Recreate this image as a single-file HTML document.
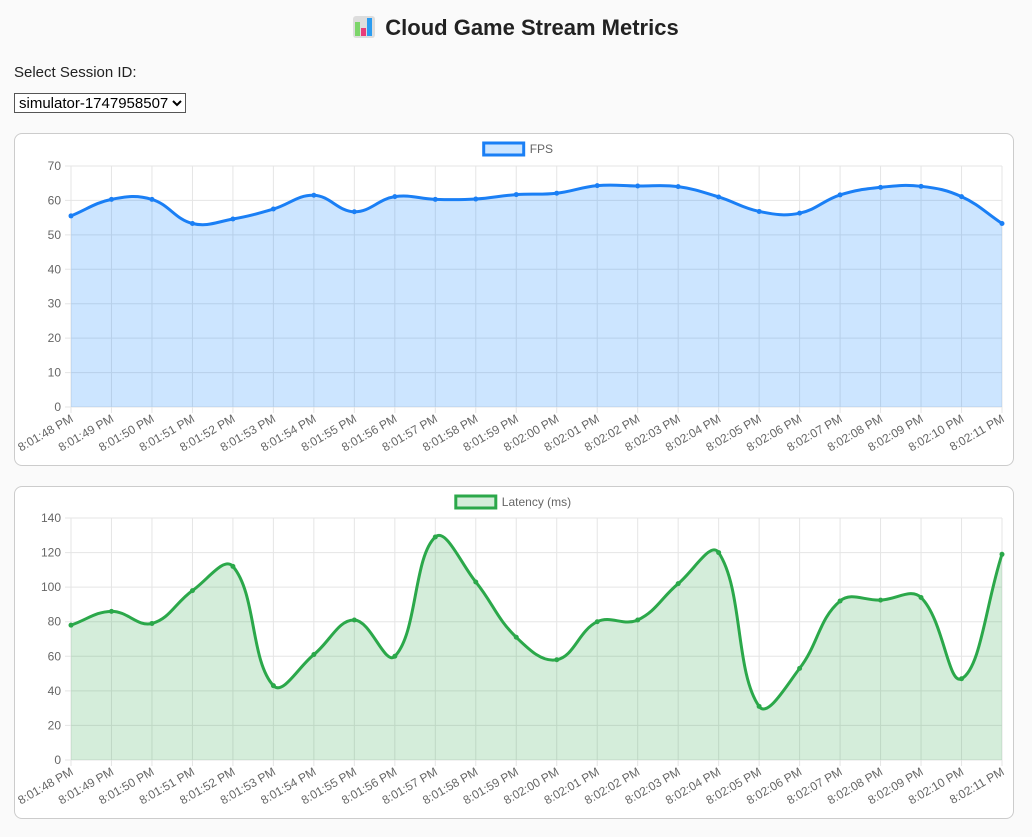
<!DOCTYPE html>
<html><head><meta charset="utf-8">
<style>
body{margin:0;background:#fafafa;font-family:"Liberation Sans",Arial,sans-serif;width:1032px;height:837px;overflow:hidden;position:relative}
h1{position:absolute;left:0;width:1032px;top:15px;margin:0;text-align:center;font-size:22px;font-weight:bold;color:#222}
.lbl{position:absolute;left:14px;top:64px;font-size:15px;color:#222}
select{position:absolute;left:14px;top:93px;height:20px;font-size:15px;font-family:"Liberation Sans",sans-serif;padding:0;border:1px solid #555;background:#fff}
.card{position:absolute;left:14px;width:1000px;height:333px;background:#fff;border:1px solid #ccc;border-radius:8px;box-sizing:border-box}
svg{position:absolute;left:0;top:0}
</style></head><body>
<h1><span style="display:inline-block;width:22px;height:22px;vertical-align:-3px;margin-right:10px;background:#ddd;border-radius:3px;position:relative"><span style="position:absolute;left:2px;bottom:2px;width:5px;height:14px;background:#7cd56a"></span><span style="position:absolute;left:8px;bottom:2px;width:5px;height:8px;background:#e83c7a"></span><span style="position:absolute;left:14px;bottom:2px;width:5px;height:18px;background:#2b9cf0"></span></span>Cloud Game Stream Metrics</h1>
<div class="lbl">Select Session ID:</div>
<select><option>simulator-1747958507</option></select>
<div class="card" style="top:133px"></div>
<div class="card" style="top:486px"></div>
<svg id="s" width="1032" height="837"></svg>
<script>
const labels=["8:01:48 PM","8:01:49 PM","8:01:50 PM","8:01:51 PM","8:01:52 PM","8:01:53 PM","8:01:54 PM","8:01:55 PM","8:01:56 PM","8:01:57 PM","8:01:58 PM","8:01:59 PM","8:02:00 PM","8:02:01 PM","8:02:02 PM","8:02:03 PM","8:02:04 PM","8:02:05 PM","8:02:06 PM","8:02:07 PM","8:02:08 PM","8:02:09 PM","8:02:10 PM","8:02:11 PM"];
const fpsValues=[55.5,60.3,60.3,53.3,54.6,57.5,61.5,56.7,61.1,60.3,60.4,61.7,62.1,64.3,64.2,64,61,56.8,56.3,61.6,63.8,64.1,61.1,53.3];
const latencyValues=[78,86,79,98,112,43,61,81,60,129,103,71,58,80,81,102,120,31,53,92,92.5,94,47,119];
const fpsTicks=[0,10,20,30,40,50,60,70];
const latTicks=[0,20,40,60,80,100,120,140];
const NS='http://www.w3.org/2000/svg',svg=document.getElementById('s');
function mk(t,a,p){const e=document.createElementNS(NS,t);for(const k in a)e.setAttribute(k,a[k]);(p||svg).appendChild(e);return e;}
function chart(o){
  const g=mk('g',{});
  
  
  const x0=71,x1=1002,max=o.ticks[o.ticks.length-1];
  const X=i=>x0+i*(x1-x0)/(labels.length-1);
  const Y=v=>o.yb-(v/max)*(o.yb-o.yt);
  o.ticks.forEach(t=>{
    const l=mk('line',{x1:x0-6,x2:x1,y1:Y(t),y2:Y(t),stroke:'#e5e5e5'},g);
    
    
    const tx=mk('text',{x:x0-10,y:Y(t)+4,'text-anchor':'end','font-size':12,fill:'#666'},g);tx.textContent=t;
    
    
  });
  labels.forEach((lb,i)=>{
    mk('line',{x1:X(i),x2:X(i),y1:o.yt,y2:o.yb+6,stroke:'#e5e5e5'},g);
    const tx=mk('text',{transform:`translate(${X(i)+3},${o.yb+14}) rotate(-30)`,'text-anchor':'end','font-size':12,fill:'#666'},g);tx.textContent=lb;
    
    
  });
  const p=o.vals.map((v,i)=>[X(i),Y(v)]);
  let d=`M${p[0][0]},${p[0][1]}`;const t=0.4;
  for(let i=0;i<p.length-1;i++){
    const a=p[Math.max(i-1,0)],b=p[i],c=p[i+1],e=p[Math.min(i+2,p.length-1)];
    const d01=Math.hypot(b[0]-a[0],b[1]-a[1]),d12=Math.hypot(c[0]-b[0],c[1]-b[1]),d23=Math.hypot(e[0]-c[0],e[1]-c[1]);
    let fb=d12/(d01+d12)||0;
    const c1=[b[0]+t*fb*(c[0]-a[0]),b[1]+t*fb*(c[1]-a[1])];
    let ga=d12/(d12+d23)||0;
    const c2=[c[0]-t*ga*(e[0]-b[0]),c[1]-t*ga*(e[1]-b[1])];
    d+=` C${c1[0]},${c1[1]} ${c2[0]},${c2[1]} ${c[0]},${c[1]}`;
  }
  const area=mk('path',{d:d+` L${x1},${o.yb} L${x0},${o.yb} Z`,fill:o.fill},g);
  
  
  const ln=mk('path',{d:d,fill:'none',stroke:o.color,'stroke-width':3},g);
  
  
  p.forEach(q=>{const c=mk('circle',{cx:q[0],cy:q[1],r:2.5,fill:o.color},g);
    
    });
  const lw=o.legend.length*6.2+46,lx=516-lw/2;
  const lr=mk('rect',{x:lx,y:o.ly,width:40,height:12,fill:o.fill,stroke:o.color,'stroke-width':3},g);
  
  
  const lt=mk('text',{x:lx+46,y:o.ly+10,'font-size':12,fill:'#666'},g);lt.textContent=o.legend;
  
  
}
chart({name:'fps-chart',vals:fpsValues,ticks:fpsTicks,yt:166,yb:407,color:'#1a7ff5',fill:'rgba(0,123,255,0.2)',legend:'FPS',ly:143});
chart({name:'latency-chart',vals:latencyValues,ticks:latTicks,yt:518,yb:760,color:'#2ba84a',fill:'rgba(40,167,69,0.2)',legend:'Latency (ms)',ly:496});
</script>
</body></html>
